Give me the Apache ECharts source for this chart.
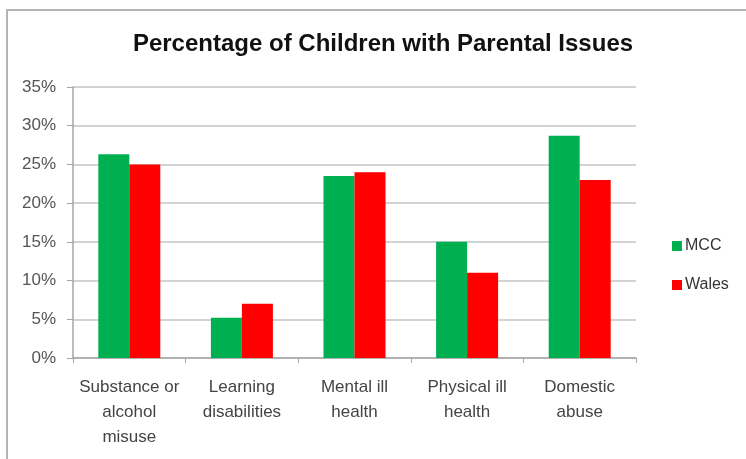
<!DOCTYPE html>
<html>
<head>
<meta charset="utf-8">
<script src="https://cdn.jsdelivr.net/npm/echarts@6/dist/echarts.min.js"></script>
<style>
html,body{margin:0;padding:0;background:#fff;}
#frame{position:absolute;left:6px;top:9px;width:740px;height:450px;border-top:2px solid #b5b5b5;border-left:2px solid #b5b5b5;box-sizing:border-box;}
#chart{position:absolute;left:0;top:0;width:746px;height:459px;}
</style>
</head>
<body>
<div id="frame"></div>
<div id="chart"></div>
<script>
const categories = ['Substance or\nalcohol\nmisuse', 'Learning\ndisabilities', 'Mental ill\nhealth', 'Physical ill\nhealth', 'Domestic\nabuse'];
const mccValues = [26.3, 5.2, 23.5, 15.0, 28.7];
const walesValues = [25.0, 7.0, 24.0, 11.0, 23.0];
const seriesNames = ['MCC', 'Wales'];
const titleText = 'Percentage of Children with Parental Issues';

const chart = echarts.init(document.getElementById('chart'), null, {renderer: 'canvas'});
chart.setOption({
  backgroundColor: 'transparent',
  animation: false,
  title: {
    text: titleText,
    left: 378,
    textAlign: 'center',
    top: 27,
    textStyle: {fontFamily: 'Liberation Sans', fontWeight: 'bold', fontSize: 24, color: '#111'}
  },
  legend: {
    orient: 'vertical',
    left: 667,
    top: 233,
    itemWidth: 10,
    itemHeight: 10,
    itemGap: 23,
    icon: 'rect',
    textStyle: {fontFamily: 'Liberation Sans', fontSize: 16, color: '#333', padding: [0,0,0,-2]},
    data: seriesNames
  },
  grid: {left: 73, right: 110, top: 87, bottom: 101, containLabel: false},
  xAxis: {
    type: 'category',
    data: categories,
    axisLine: {lineStyle: {color: '#a6a6a6', width: 1.5}},
    axisTick: {show: true, length: 5, lineStyle: {color: '#a6a6a6'}},
    axisLabel: {fontFamily: 'Liberation Sans', fontSize: 17, color: '#444', lineHeight: 25, margin: 17, interval: 0}
  },
  yAxis: {
    type: 'value',
    min: 0,
    max: 35,
    interval: 5,
    axisLine: {show: true, lineStyle: {color: '#a6a6a6', width: 1.5}},
    axisTick: {show: true, length: 6, lineStyle: {color: '#a6a6a6'}},
    axisLabel: {formatter: '{value}%', fontFamily: 'Liberation Sans', fontSize: 17, color: '#555', margin: 17},
    splitLine: {lineStyle: {color: '#c4c4c4', width: 1.5}}
  },
  series: [
    {name: seriesNames[0], type: 'bar', data: mccValues, barWidth: 31, barGap: '0%', itemStyle: {color: '#00b050'}},
    {name: seriesNames[1], type: 'bar', data: walesValues, barWidth: 31, barGap: '0%', itemStyle: {color: '#ff0000'}}
  ]
});
</script>
</body>
</html>
